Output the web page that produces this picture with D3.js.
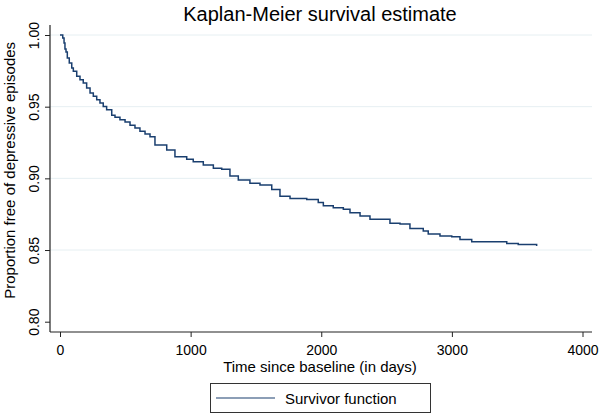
<!DOCTYPE html>
<html>
<head>
<meta charset="utf-8">
<script src="https://cdn.jsdelivr.net/npm/d3@7"></script>
<style>
  body { margin: 0; background: #fff; }
  svg { display: block; font-family: "Liberation Sans", Arial, sans-serif; }
</style>
</head>
<body>
<svg id="chart" width="600" height="414"></svg>
<script>
// ---- data ----
const days = [0, 21, 31, 38, 46, 56, 71, 90, 102, 128, 153, 178, 204, 230, 255, 281, 306, 331, 357, 396, 421, 459, 498, 536, 574, 612, 651, 689, 727, 817, 880, 970, 1020, 1097, 1174, 1238, 1301, 1365, 1454, 1531, 1621, 1684, 1761, 1889, 1977, 2016, 2092, 2169, 2220, 2297, 2373, 2526, 2603, 2679, 2781, 2819, 2909, 2999, 3062, 3152, 3343, 3420, 3508, 3649];
const survival = [1.000, 0.9979, 0.9944, 0.9902, 0.9881, 0.9839, 0.9805, 0.977, 0.9747, 0.9712, 0.9688, 0.9665, 0.963, 0.9595, 0.9572, 0.9549, 0.9525, 0.9502, 0.9479, 0.944, 0.9426, 0.9409, 0.9393, 0.937, 0.9351, 0.9328, 0.9309, 0.9291, 0.9232, 0.9197, 0.915, 0.9133, 0.9116, 0.9093, 0.907, 0.9063, 0.9016, 0.8988, 0.8965, 0.8953, 0.8923, 0.8876, 0.886, 0.8853, 0.8832, 0.8809, 0.8795, 0.8784, 0.876, 0.8737, 0.8714, 0.8686, 0.8681, 0.8651, 0.8632, 0.8611, 0.8597, 0.8592, 0.8574, 0.8558, 0.8558, 0.8546, 0.8539, 0.8528];
const xTicks = [0, 1000, 2000, 3000, 4000];
const yTicks = [0.80, 0.85, 0.90, 0.95, 1.00];
const gridTicks = [0.85, 0.90, 0.95, 1.00];
const titleText = "Kaplan-Meier survival estimate";
const xLabel = "Time since baseline (in days)";
const yLabel = "Proportion free of depressive episodes";
const legendLabel = "Survivor function";

const points = days.map((d, i) => ({ t: d, s: survival[i] }));

const svg = d3.select("#chart");
const lineColor = "#1a3f6f";
const axisLeftX = 50, axisBottomY = 332, axisTopY = 25, axisRightX = 592;

const x = d3.scaleLinear().domain([0, 4000]).range([60, 582.5]);
const y = d3.scaleLinear().domain([0.80, 1.00]).range([321.7, 35]);

// gridlines
svg.append("g").selectAll("line").data(gridTicks).join("line")
  .attr("x1", axisLeftX).attr("x2", axisRightX)
  .attr("y1", d => y(d)).attr("y2", d => y(d))
  .attr("stroke", "#e6eff2").attr("stroke-width", 1);

// axes lines
svg.append("line").attr("x1", axisLeftX).attr("x2", axisLeftX)
  .attr("y1", axisTopY).attr("y2", axisBottomY)
  .attr("stroke", "#222").attr("stroke-width", 1.2);
svg.append("line").attr("x1", axisLeftX).attr("x2", axisRightX)
  .attr("y1", axisBottomY).attr("y2", axisBottomY)
  .attr("stroke", "#222").attr("stroke-width", 1.2);

// x axis
const xAxis = svg.append("g").attr("transform", `translate(0,${axisBottomY})`)
  .call(d3.axisBottom(x).tickValues(xTicks).tickFormat(d3.format("d")).tickSize(5).tickPadding(8));
xAxis.select(".domain").remove();
xAxis.selectAll(".tick line").attr("stroke", "#222");
xAxis.selectAll("text").attr("font-size", 14).attr("fill", "#000")
  .attr("font-family", "Liberation Sans, Arial, sans-serif");

// y axis
const yAxis = svg.append("g").attr("transform", `translate(${axisLeftX},0)`)
  .call(d3.axisLeft(y).tickValues(yTicks).tickFormat(d3.format(".2f")).tickSize(5));
yAxis.select(".domain").remove();
yAxis.selectAll(".tick line").attr("stroke", "#222");
yAxis.selectAll("text")
  .attr("font-size", 14).attr("fill", "#000")
  .attr("font-family", "Liberation Sans, Arial, sans-serif")
  .attr("x", null).attr("dy", null)
  .attr("text-anchor", "middle")
  .attr("transform", "translate(-11,0) rotate(-90)");

// curve
const line = d3.line().x(d => x(d.t)).y(d => y(d.s)).curve(d3.curveStepAfter);
svg.append("path").datum(points)
  .attr("d", line).attr("fill", "none")
  .attr("stroke", lineColor).attr("stroke-width", 1.5);

// title
svg.append("text").attr("x", 320).attr("y", 21).attr("text-anchor", "middle")
  .attr("font-size", 20).attr("fill", "#000").text(titleText);

// x label
svg.append("text").attr("x", 320).attr("y", 372).attr("text-anchor", "middle")
  .attr("font-size", 15).attr("fill", "#000").text(xLabel);

// y label
svg.append("text").attr("transform", `translate(15,${(y(1.0) + y(0.8)) / 2 - 8}) rotate(-90)`)
  .attr("text-anchor", "middle").attr("font-size", 15).attr("fill", "#000").text(yLabel);

// legend
const lg = svg.append("g");
lg.append("rect").attr("x", 210.5).attr("y", 383.5).attr("width", 220).attr("height", 29)
  .attr("fill", "#fff").attr("stroke", "#333").attr("stroke-width", 1);
lg.append("line").attr("x1", 216).attr("x2", 275).attr("y1", 398).attr("y2", 398)
  .attr("stroke", lineColor).attr("stroke-width", 1.2);
lg.append("text").attr("x", 285).attr("y", 404).attr("font-size", 15).attr("fill", "#000").text(legendLabel);
</script>
</body>
</html>
